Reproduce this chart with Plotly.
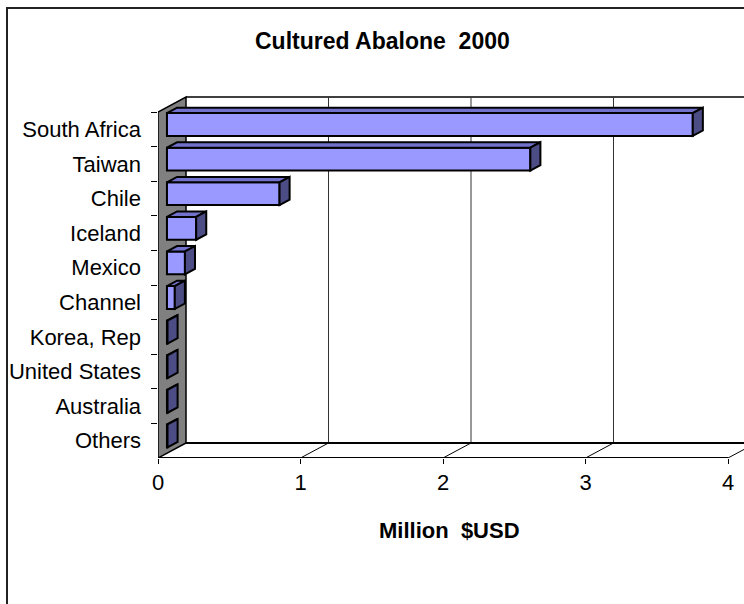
import plotly.graph_objects as go

# ---- data -------------------------------------------------------------
countries = ["South Africa", "Taiwan", "Chile", "Iceland", "Mexico",
             "Channel", "Korea, Rep", "United States", "Australia", "Others"]
value_musd = [3.69, 2.55, 0.79, 0.205, 0.126, 0.055, 0.004, 0.004, 0.004, 0.004]
x_ticks = [0, 1, 2, 3, 4]
chart_title = "Cultured Abalone\u00a0 2000"
x_title = "Million\u00a0 $USD"

# ---- geometry / style -------------------------------------------------
W, H = 744, 604
L, R, T, B = 158, 0, 90, 146
PX_PER_UNIT = 142.5          # horizontal pixels per million USD
ROW_PX = 34.6                # pixels per category row
n = len(countries)
XMAX = (W - L - R) / PX_PER_UNIT
YTOP = (n - 0.5) - (H - T - B) / ROW_PX

# depth vector of the 3-D box (front plane -> back wall), in data units
DX = 28 / PX_PER_UNIT
DY = -15 / ROW_PX
FRONT, BACK = 0.32, 0.68     # depth fractions of bar front / back faces
BAR_H = 0.66                 # bar thickness in category units

FONT = "Liberation Sans, Arial, sans-serif"
C_FRONT = "#9999FF"
C_TOP = "#7272CC"
C_SIDE = "#4D4D85"
C_WALL = "#808080"
EDGE = "black"

y_lo, y_hi = -0.5, n - 0.5   # category boundaries on the front plane


def poly(pts):
    return "M " + " L ".join(f"{x:.5f},{y:.5f}" for x, y in pts) + " Z"


def px_x(p):
    return (p - L) / (W - L - R)


def px_y(p):
    return (H - B - p) / (H - T - B)


shapes = []

# left side wall
shapes.append(dict(type="path", xref="x", yref="y", layer="below",
                   path=poly([(0, y_lo), (DX, y_lo + DY), (DX, y_hi + DY), (0, y_hi)]),
                   fillcolor=C_WALL, line=dict(color=EDGE, width=1.5)))
# top edge of back wall
shapes.append(dict(type="line", xref="x", yref="y", layer="below",
                   x0=DX, y0=y_lo + DY, x1=XMAX + 1, y1=y_lo + DY,
                   line=dict(color=EDGE, width=1.5)))
# back-wall gridlines and floor gridlines
for k in x_ticks[1:]:
    shapes.append(dict(type="line", xref="x", yref="y", layer="below",
                       x0=k + DX, y0=y_hi + DY, x1=k + DX, y1=y_lo + DY,
                       line=dict(color="#333333", width=1)))
    shapes.append(dict(type="line", xref="x", yref="y", layer="below",
                       x0=k, y0=y_hi, x1=k + DX, y1=y_hi + DY,
                       line=dict(color=EDGE, width=1)))
# floor back edge and front edge
shapes.append(dict(type="line", xref="x", yref="y", layer="below",
                   x0=DX, y0=y_hi + DY, x1=XMAX + 1, y1=y_hi + DY,
                   line=dict(color=EDGE, width=2)))
shapes.append(dict(type="line", xref="x", yref="y", layer="below",
                   x0=0, y0=y_hi, x1=x_ticks[-1], y1=y_hi,
                   line=dict(color=EDGE, width=2)))

# top and side faces of each bar
ox, oy = (BACK - FRONT) * DX, (BACK - FRONT) * DY
for i, v in enumerate(value_musd):
    x0 = FRONT * DX
    x1 = x0 + v
    y0 = i - BAR_H / 2 + FRONT * DY
    y1 = y0 + BAR_H
    shapes.append(dict(type="path", xref="x", yref="y", layer="above",
                       path=poly([(x0, y0), (x1, y0), (x1 + ox, y0 + oy), (x0 + ox, y0 + oy)]),
                       fillcolor=C_TOP, line=dict(color=EDGE, width=2)))
    shapes.append(dict(type="path", xref="x", yref="y", layer="above",
                       path=poly([(x1, y0), (x1, y1), (x1 + ox, y1 + oy), (x1 + ox, y0 + oy)]),
                       fillcolor=C_SIDE, line=dict(color=EDGE, width=2)))

# outer chart frame
shapes.append(dict(type="rect", xref="paper", yref="paper",
                   x0=px_x(7), x1=px_x(W + 20), y0=px_y(H + 20), y1=px_y(8),
                   line=dict(color="#222222", width=2), fillcolor="rgba(0,0,0,0)"))

fig = go.Figure()
fig.add_trace(go.Bar(
    y=countries, x=value_musd, base=FRONT * DX, orientation="h",
    width=BAR_H, offset=-BAR_H / 2 + FRONT * DY,
    marker=dict(color=C_FRONT, line=dict(color=EDGE, width=2)),
    hoverinfo="skip", showlegend=False,
))

fig.update_layout(
    width=W, height=H, autosize=False,
    margin=dict(l=L, r=R, t=T, b=B, pad=0),
    paper_bgcolor="white", plot_bgcolor="white",
    font=dict(family=FONT, size=22, color="black"),
    shapes=shapes,
    xaxis=dict(range=[0, XMAX], tickvals=x_ticks, ticktext=[str(t) for t in x_ticks],
               ticks="outside", ticklen=5, tickwidth=1, tickcolor="black",
               showgrid=False, zeroline=False, showline=False,
               tickfont=dict(size=22), fixedrange=True),
    yaxis=dict(type="category", categoryorder="array", categoryarray=countries,
               range=[y_hi, YTOP], tickson="boundaries",
               ticks="outside", ticklen=6, tickwidth=1, tickcolor="black",
               ticklabelstandoff=16,
               showgrid=False, zeroline=False, showline=False,
               tickfont=dict(size=22), fixedrange=True),
    annotations=[
        dict(text=f"<b>{chart_title}</b>", xref="paper", yref="paper",
             x=px_x(382), y=px_y(41), xanchor="center", yanchor="middle",
             showarrow=False, font=dict(size=23)),
        dict(text=f"<b>{x_title}</b>", xref="paper", yref="paper",
             x=px_x(449), y=px_y(530), xanchor="center", yanchor="middle",
             showarrow=False, font=dict(size=22)),
    ],
)

fig.write_html("out.html")
